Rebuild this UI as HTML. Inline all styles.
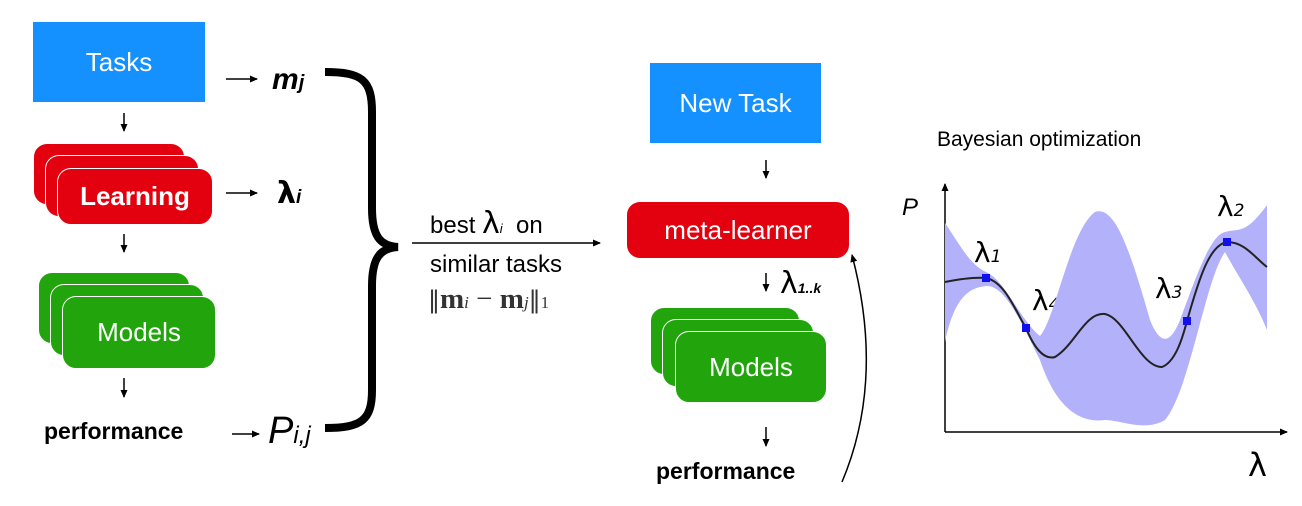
<!DOCTYPE html>
<html><head><meta charset="utf-8"><style>
body{margin:0;width:1302px;height:506px;background:#fff;overflow:hidden;position:relative;font-family:"Liberation Sans",sans-serif}
.a{position:absolute}
.box{position:absolute;color:#fff;display:flex;align-items:center;justify-content:center;font-size:26px}
.blue{background:#1590ff}
.red{background:#e3000f;border:1.5px solid #fff;border-radius:14px}
.green{background:#22a40c;border:1.5px solid #fff;border-radius:14px}
.t{position:absolute;color:#000;white-space:nowrap}
</style></head><body>
<div class="box blue" style="left:33px;top:22px;width:172px;height:80px">Tasks</div>
<div class="box red" style="left:33px;top:143px;width:150px;height:60px"></div>
<div class="box red" style="left:45px;top:155px;width:152px;height:60px"></div>
<div class="box red" style="left:57px;top:168px;width:154px;height:55px;font-weight:bold">Learning</div>
<div class="box green" style="left:38px;top:272px;width:150px;height:70px"></div>
<div class="box green" style="left:50px;top:284px;width:152px;height:70px"></div>
<div class="box green" style="left:62px;top:296px;width:152px;height:71px">Models</div>
<div class="t" style="left:44px;top:418px;font-size:23px;font-weight:bold">performance</div>

<div class="box blue" style="left:650px;top:63px;width:171px;height:80px">New Task</div>
<div class="box red" style="left:626px;top:201px;width:222px;height:56px">meta-learner</div>
<div class="box green" style="left:650px;top:307px;width:148px;height:66px"></div>
<div class="box green" style="left:662px;top:319px;width:150px;height:66px"></div>
<div class="box green" style="left:675px;top:331px;width:150px;height:70px">Models</div>
<div class="t" style="left:656px;top:458px;font-size:23px;font-weight:bold">performance</div>

<div class="t" style="left:430px;top:212px;font-size:24px">best <span style="font-size:30px;font-family:'DejaVu Sans';line-height:24px">λ</span><i style="font-size:13px">i</i>&nbsp; on</div>
<div class="t" style="left:430px;top:251px;font-size:24px">similar tasks</div>
<div class="t" style="left:428px;top:283px;font-size:29px;font-family:'Liberation Serif',serif;color:#333"><span style="font-family:'DejaVu Sans';font-size:24px">‖</span><b>m</b><i style="font-size:17px">i</i> − <b>m</b><i style="font-size:17px">j</i><span style="font-family:'DejaVu Sans';font-size:24px">‖</span><span style="font-size:17px">1</span></div>

<div class="t" style="left:272px;top:63px;font-size:30px;font-weight:bold;font-style:italic">m<span style="font-size:20px">j</span></div>
<div class="t" style="left:277px;top:176px;font-size:30px;font-weight:bold;font-family:'DejaVu Sans'">λ<i style="font-size:19px;font-family:'Liberation Sans'">i</i></div>
<div class="t" style="left:268px;top:410px;font-size:38px;font-style:italic">P<span style="font-size:24px">i,j</span></div>
<div class="t" style="left:780px;top:266px;font-size:30px;font-family:'DejaVu Sans'">λ<b><i style="font-size:14px;font-family:'Liberation Sans'">1..k</i></b></div>

<div class="t" style="left:937px;top:128px;font-size:21px">Bayesian optimization</div>
<div class="t" style="left:902px;top:194px;font-size:24px;font-style:italic">P</div>
<div class="t" style="left:1248px;top:446px;font-size:32px;font-family:'DejaVu Sans'">λ</div>
<div class="t" style="left:974px;top:236px;font-size:28px;font-family:'DejaVu Sans'">λ<i style="font-size:17px">1</i></div>
<div class="t" style="left:1032px;top:284px;font-size:28px;font-family:'DejaVu Sans'">λ<i style="font-size:17px">4</i></div>
<div class="t" style="left:1155px;top:272px;font-size:28px;font-family:'DejaVu Sans'">λ<i style="font-size:17px">3</i></div>
<div class="t" style="left:1217px;top:190px;font-size:28px;font-family:'DejaVu Sans'">λ<i style="font-size:17px">2</i></div>

<svg class="a" style="left:0;top:0" width="1302" height="506">
<defs><marker id="ah" markerWidth="8" markerHeight="8" refX="7" refY="4" orient="auto" markerUnits="userSpaceOnUse"><path d="M0,0.5 L8,4 L0,7.5z" fill="#000"/></marker></defs>
<g stroke="#000" stroke-width="1.5" fill="none" marker-end="url(#ah)">
<line x1="124" y1="113" x2="124" y2="131"/>
<line x1="124" y1="234" x2="124" y2="252"/>
<line x1="124" y1="378" x2="124" y2="397"/>
<line x1="226" y1="79" x2="257" y2="79"/>
<line x1="226" y1="193" x2="257" y2="193"/>
<line x1="232" y1="434" x2="259" y2="434"/>
<line x1="412" y1="243" x2="600" y2="243"/>
<line x1="766" y1="160" x2="766" y2="178"/>
<line x1="766" y1="273" x2="766" y2="291"/>
<line x1="766" y1="427" x2="766" y2="446"/>
<path d="M842,482 Q885,380 852,255"/>
<line x1="945" y1="432" x2="945" y2="184"/>
<line x1="945" y1="432" x2="1287" y2="432"/>
</g>
<path d="M325,72 C362,72 372,80 372,112 L372,208 C372,236 380,246 398,247 C380,248 372,258 372,286 L372,390 C372,420 362,428 325,428" stroke="#000" stroke-width="8" fill="none"/>
<path d="M945,223 C960,245 970,265 986,272 C1005,280 1020,320 1040,336 C1055,320 1070,230 1095,212 C1115,205 1130,250 1150,320 C1160,345 1170,345 1180,320 C1195,280 1210,235 1225,232 C1240,228 1245,235 1267,205 L1267,330 C1255,300 1240,280 1225,252 C1205,280 1190,390 1165,420 C1145,432 1120,420 1105,420 C1090,422 1060,420 1040,360 C1020,320 1005,285 986,286 C970,288 955,295 945,342 Z" fill="#b3b1fa"/>
<path d="M945,282 C960,279 975,277 986,278 C1005,282 1015,310 1026,328 C1035,350 1045,360 1055,357 C1075,345 1085,312 1105,314 C1125,318 1140,367 1162,367 C1175,362 1182,340 1187,321 C1200,275 1210,245 1227,242 C1245,242 1255,258 1267,267" stroke="#222" stroke-width="2" fill="none"/>
<g fill="#1010ee"><rect x="982" y="274" width="8" height="8"/><rect x="1022" y="324" width="8" height="8"/><rect x="1183" y="317" width="8" height="8"/><rect x="1223" y="238" width="8" height="8"/></g>
</svg>
</body></html>
